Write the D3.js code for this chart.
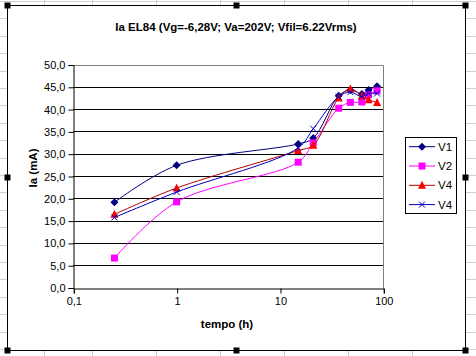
<!DOCTYPE html>
<html><head><meta charset="utf-8">
<script src="https://cdn.jsdelivr.net/npm/d3@7"></script>
<style>body{margin:0;background:#fff}svg{display:block}text{font-family:"Liberation Sans",Arial,sans-serif}</style>
</head><body>
<script>
const hours = [0.25, 1, 15, 21, 37, 48, 62, 72, 87];
const seriesNames = ["V1", "V2", "V4", "V4"];
const v1 = [19.1, 27.4, 32.2, 33.5, 43.0, 44.3, 43.4, 44.3, 45.1];
const v2 = [6.6, 19.2, 28.1, 32.4, 40.2, 41.5, 41.6, 43.2, 44.1];
const v4a = [16.4, 22.3, 30.7, 31.9, 42.5, 44.5, 43.0, 42.1, 41.5];
const v4b = [15.7, 21.4, 31.3, 35.6, 42.8, 43.8, 42.8, 43.5, 43.5];
const xTicks = [0.1, 1, 10, 100];
const xTickLabels = ["0,1", "1", "10", "100"];
const yTicks = [0, 5, 10, 15, 20, 25, 30, 35, 40, 45, 50];
const title = "Ia EL84 (Vg=-6,28V; Va=202V; Vfil=6.22Vrms)";

const W = 476, H = 356;
const svg = d3.select("body").append("svg").attr("width", W).attr("height", H);

// spreadsheet grid background
const colX = [44, 92, 156, 220, 284, 348, 412];
const rowY = d3.range(1, H, 17.4);
svg.selectAll(".vg").data(colX).enter().append("line")
  .attr("x1", d => d + 0.5).attr("x2", d => d + 0.5).attr("y1", 0).attr("y2", H)
  .attr("stroke", "#d0d0d0");
svg.selectAll(".hg").data(rowY).enter().append("line")
  .attr("x1", 0).attr("x2", W).attr("y1", d => Math.round(d) + 0.5).attr("y2", d => Math.round(d) + 0.5)
  .attr("stroke", "#d0d0d0");

// chart area
const cx0 = 7, cy0 = 5, cx1 = 465, cy1 = 350;
svg.append("rect").attr("x", cx0 + 0.5).attr("y", cy0 + 0.5).attr("width", cx1 - cx0).attr("height", cy1 - cy0)
  .attr("fill", "#fff").attr("stroke", "#000");

const x = d3.scaleLog().domain([0.1, 100]).range([73.3, 383.3]);
const y = d3.scaleLinear().domain([0, 50]).range([287.5, 64.5]);

// gridlines
svg.selectAll(".gl").data(yTicks.filter(d => d > 0 && d < 50)).enter().append("line")
  .attr("x1", 73).attr("x2", 383).attr("y1", d => Math.round(y(d)) + 0.5).attr("y2", d => Math.round(y(d)) + 0.5)
  .attr("stroke", "#000");
// plot border top/right gray
svg.append("line").attr("x1", 73).attr("x2", 383.5).attr("y1", Math.round(y(50)) + 0.5).attr("y2", Math.round(y(50)) + 0.5).attr("stroke", "#808080");
svg.append("line").attr("x1", 383.5).attr("x2", 383.5).attr("y1", Math.round(y(50)) + 0.5).attr("y2", Math.round(y(0)) + 0.5).attr("stroke", "#808080");

// axes
const yAxis = d3.axisLeft(y).tickValues(yTicks).tickSize(5).tickPadding(3)
  .tickFormat(d => d3.format(".1f")(d).replace(".", ","));
const gy = svg.append("g").attr("transform", "translate(73.5,0.5)").call(yAxis);
const xAxis = d3.axisBottom(x).tickValues(xTicks).tickSize(5).tickPadding(4)
  .tickFormat((d, i) => xTickLabels[i]);
const gx = svg.append("g").attr("transform", "translate(0.5," + (Math.round(y(0)) + 0.5) + ")").call(xAxis);
[gx, gy].forEach(g => {
  g.selectAll("path").attr("stroke", "#000");
  g.selectAll("line").attr("stroke", "#000");
  g.selectAll("text").attr("font-size", 11).attr("fill", "#000").attr("font-family", "Liberation Sans, Arial, sans-serif");
});
gy.selectAll(".tick line").attr("transform", "translate(0,0)");

// series
const series = [
  {name: seriesNames[0], vals: v1, line: "#000080", fill: "#000080", shape: "diamond"},
  {name: seriesNames[1], vals: v2, line: "#ff00ff", fill: "#ff00ff", shape: "square"},
  {name: seriesNames[2], vals: v4a, line: "#b00000", fill: "#ff0000", shape: "triangle"},
  {name: seriesNames[3], vals: v4b, line: "#0000c0", fill: "#0000c0", shape: "x"}
];
const line = d3.line().x(d => x(d[0])).y(d => y(d[1])).curve(d3.curveCatmullRom.alpha(0.5));

function marker(g, shape, cxp, cyp, col) {
  if (shape === "diamond") {
    g.append("path").attr("d", `M${cxp},${cyp-4}L${cxp+4},${cyp}L${cxp},${cyp+4}L${cxp-4},${cyp}Z`).attr("fill", col);
  } else if (shape === "square") {
    g.append("rect").attr("x", cxp - 3.5).attr("y", cyp - 3.5).attr("width", 7).attr("height", 7).attr("fill", col);
  } else if (shape === "triangle") {
    g.append("path").attr("d", `M${cxp},${cyp-4.5}L${cxp+4},${cyp+3.5}L${cxp-4},${cyp+3.5}Z`).attr("fill", col);
  } else {
    g.append("path").attr("d", `M${cxp-3},${cyp-3}L${cxp+3},${cyp+3}M${cxp+3},${cyp-3}L${cxp-3},${cyp+3}`).attr("stroke", col).attr("stroke-width", 1);
  }
}

series.forEach(s => {
  const pts = hours.map((h, i) => [h, s.vals[i]]);
  const g = svg.append("g");
  g.append("path").attr("d", line(pts)).attr("fill", "none").attr("stroke", s.line).attr("stroke-width", 1);
  pts.forEach(p => marker(g, s.shape, x(p[0]), y(p[1]), s.fill));
});

// title & labels
svg.append("text").attr("x", 236).attr("y", 31).attr("text-anchor", "middle")
  .attr("font-size", 11.5).attr("font-weight", "bold").text(title);
svg.append("text").attr("transform", "translate(37,168) rotate(-90)").attr("text-anchor", "middle")
  .attr("font-size", 11.5).attr("font-weight", "bold").text("Ia (mA)");
svg.append("text").attr("x", 227).attr("y", 328).attr("text-anchor", "middle")
  .attr("font-size", 11.5).attr("font-weight", "bold").text("tempo (h)");

// legend
const lg = svg.append("g");
lg.append("rect").attr("x", 405.5).attr("y", 137.5).attr("width", 51).attr("height", 76)
  .attr("fill", "#fff").attr("stroke", "#000");
series.forEach((s, i) => {
  const ly = 146.7 + i * 19.3;
  lg.append("line").attr("x1", 409).attr("x2", 435).attr("y1", ly).attr("y2", ly).attr("stroke", s.line);
  marker(lg, s.shape, 422, ly, s.fill);
  lg.append("text").attr("x", 438).attr("y", ly + 4).attr("font-size", 11.5).text(s.name);
});

// selection handles
const hs = [[cx0, cy0], [236, cy0], [cx1, cy0], [cx0, 177], [cx1, 177], [cx0, cy1], [236, cy1], [cx1, cy1]];
svg.selectAll(".hd").data(hs).enter().append("rect")
  .attr("x", d => d[0] - 2.5).attr("y", d => d[1] - 2.5).attr("width", 6).attr("height", 6).attr("fill", "#000");
</script>
</body></html>
